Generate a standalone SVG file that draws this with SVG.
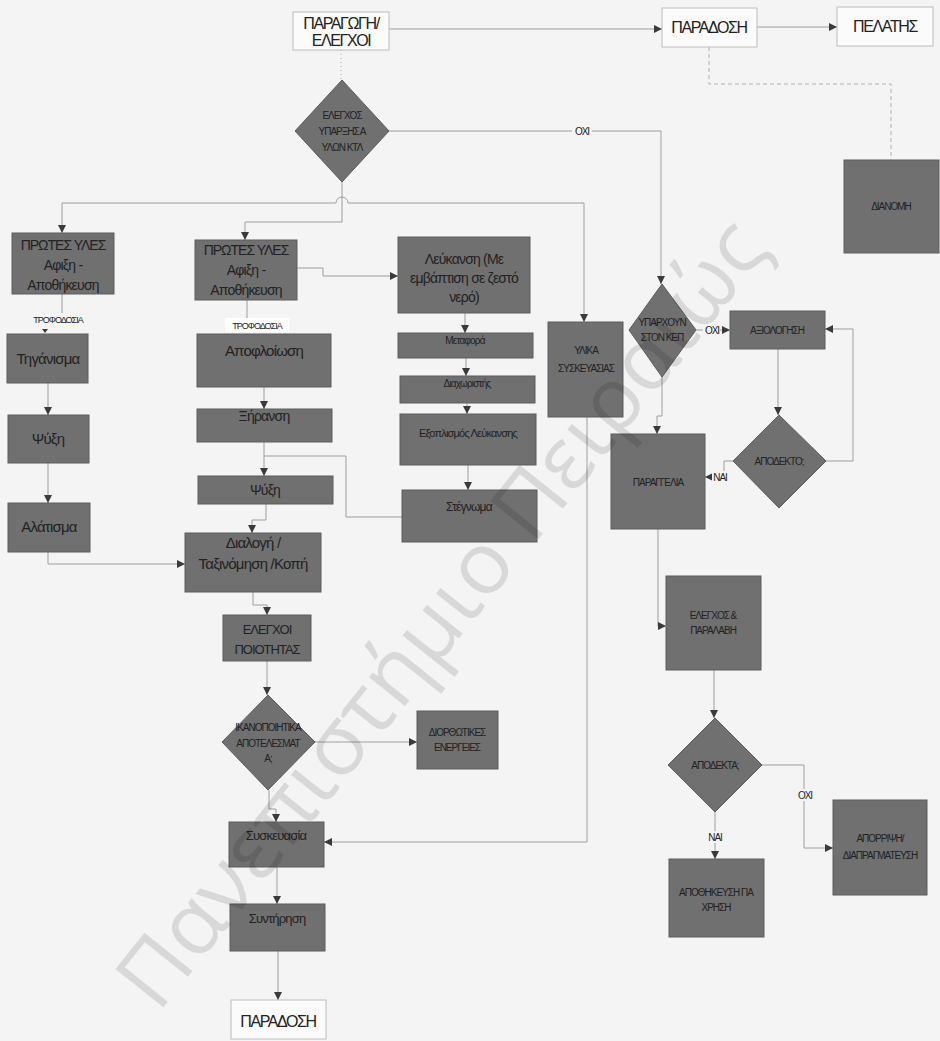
<svg xmlns="http://www.w3.org/2000/svg" width="940" height="1041" viewBox="0 0 940 1041">
<defs>
<style>
.bg{fill:#f4f4f4}
.box{fill:#707070;stroke:#5c5c5c;stroke-width:1}
.wbox{fill:#fbfbfb;stroke:#bcbcbc;stroke-width:1}
.c{fill:none;stroke:#9e9e9e;stroke-width:1}
.dash{fill:none;stroke:#b0b0b0;stroke-width:1;stroke-dasharray:4 3}
.t{font-family:"Liberation Sans",Arial,sans-serif;fill:#222222;text-anchor:middle}
.cap{letter-spacing:-1px}
.low{letter-spacing:-0.8px}
.big{font-size:16px;letter-spacing:-1.4px}
.s9{font-size:9px}
.s10{font-size:10px}
.s11{font-size:11px}
.s12{font-size:12px}
.s13{font-size:13px}
.s14{font-size:14px}
.s15{font-size:15px}
.lbl{fill:#f4f4f4}
.wm{font-family:"Open Sans","Liberation Sans",sans-serif;font-size:86px;fill:#000;opacity:0.11}
</style>
<marker id="ah" markerUnits="userSpaceOnUse" markerWidth="9" markerHeight="9" refX="8" refY="4" orient="auto-start-reverse">
<path d="M0,0 L8,4 L0,8 z" fill="#3a3a3a"/>
</marker>
</defs>
<rect class="bg" x="0" y="0" width="940" height="1041"/>

<g id="connectors">
<path class="c" d="M389,29 H662" marker-end="url(#ah)"/>
<path class="c" d="M757,27 H837" marker-end="url(#ah)"/>
<path class="dash" d="M709,47 V84 H891 V160"/>
<path class="dash" d="M341,50 V80" style="stroke-dasharray:1 3"/>
<path class="c" d="M389,131 H661 V284" marker-end="url(#ah)"/>
<path class="c" d="M342,182 V222 H245 V240" marker-end="url(#ah)"/>
<path class="c" d="M62,233 V203 H336 A6,6 0 0 1 348,203 H584 V322" marker-start="url(#ah)" marker-end="url(#ah)"/>
<path class="c" d="M297,268 H323 V276 H398" marker-end="url(#ah)"/>
<path class="c" d="M62,294 V313"/>
<path d="M42,329 L48,329 L45,333 z" fill="#3a3a3a"/>
<path class="c" d="M247,300 V319"/>
<path class="c" d="M48,383 V415" marker-end="url(#ah)"/>
<path class="c" d="M48,463 V503" marker-end="url(#ah)"/>
<path class="c" d="M48,552 V564 H185" marker-end="url(#ah)"/>
<path class="c" d="M264,387 V409" marker-end="url(#ah)"/>
<path class="c" d="M264,442 V476" marker-end="url(#ah)"/>
<path class="c" d="M264,456 H346 V517 H402"/>
<path class="c" d="M266,504 V520 H252 V533" marker-end="url(#ah)"/>
<path class="c" d="M465,313 V333" marker-end="url(#ah)"/>
<path class="c" d="M466,358 V376" marker-end="url(#ah)"/>
<path class="c" d="M467,403 V414" marker-end="url(#ah)"/>
<path class="c" d="M468,465 V490" marker-end="url(#ah)"/>
<path class="c" d="M253,592 V605 H267 V615" marker-end="url(#ah)"/>
<path class="c" d="M267,661 V695" marker-end="url(#ah)"/>
<path class="c" d="M315,742 H417" marker-end="url(#ah)"/>
<path class="c" d="M269,790 V809 H276 V822" marker-end="url(#ah)"/>
<path class="c" d="M587,417 V842 H324" marker-end="url(#ah)"/>
<path class="c" d="M277,867 V904" marker-end="url(#ah)"/>
<path class="c" d="M278,951 V1000" marker-end="url(#ah)"/>
<path class="c" d="M662,377 V416 H657 V434" marker-end="url(#ah)"/>
<path class="c" d="M696,330 H730" marker-end="url(#ah)"/>
<path class="c" d="M778,349 V415" marker-end="url(#ah)"/>
<path class="c" d="M826,461 H853 V329 H825" marker-end="url(#ah)"/>
<path class="c" d="M733,461 H724 V477 H705" marker-end="url(#ah)"/>
<path class="c" d="M658,529 V626 H666" marker-end="url(#ah)"/>
<path class="c" d="M714,670 V718" marker-end="url(#ah)"/>
<path class="c" d="M762,765 H804 V848 H833" marker-end="url(#ah)"/>
<path class="c" d="M715,812 V859" marker-end="url(#ah)"/>
<rect class="lbl" x="572" y="125" width="20" height="12"/>
<text class="t cap s10" x="582" y="135">ΟΧΙ</text>
<rect class="lbl" x="703" y="324" width="17" height="12"/>
<text class="t cap s10" x="712" y="334">ΟΧΙ</text>
<rect class="lbl" x="712" y="471" width="16" height="12"/>
<text class="t cap s10" x="720" y="481">ΝΑΙ</text>
<rect class="lbl" x="796" y="789" width="18" height="12"/>
<text class="t cap s10" x="805" y="799">ΟΧΙ</text>
<rect class="lbl" x="706" y="831" width="18" height="12"/>
<text class="t cap s10" x="715" y="841">ΝΑΙ</text>
<rect class="lbl" x="27" y="313" width="62" height="13"/>
<text class="t cap s9" x="58" y="323">ΤΡΟΦΟΔΟΣΙΑ</text>
<rect fill="#ffffff" x="225" y="318" width="64" height="14"/>
<text class="t cap s9" x="257" y="329">ΤΡΟΦΟΔΟΣΙΑ</text>
</g>

<g id="n-paragogi"><rect class="wbox" x="293" y="12" width="96" height="38"/>
<text class="t big" x="341" y="29">ΠΑΡΑΓΩΓΗ/</text><text class="t big" x="341" y="46">ΕΛΕΓΧΟΙ</text></g>
<g id="n-paradosi-top"><rect class="wbox" x="662" y="8" width="95" height="39"/>
<text class="t big" x="709" y="33">ΠΑΡΑΔΟΣΗ</text></g>
<g id="n-pelatis"><rect class="wbox" x="837" y="7" width="96" height="39"/>
<text class="t big" x="885" y="32">ΠΕΛΑΤΗΣ</text></g>
<g id="n-dianomi"><rect class="box" x="844" y="160" width="95" height="93"/>
<text class="t cap s10" x="891" y="210">ΔΙΑΝΟΜΗ</text></g>
<g id="d-elegxos"><polygon class="box" points="342,80 389,131 342,182 295,131"/>
<text class="t cap s10" x="342" y="119">ΕΛΕΓΧΟΣ</text><text class="t cap s10" x="342" y="135">ΥΠΑΡΞΗΣ Α</text><text class="t cap s10" x="342" y="151">ΥΛΩΝ ΚΤΛ</text></g>

<g id="n-prwtes1"><rect class="box" x="12" y="233" width="102" height="61"/>
<text class="t cap s14" x="63" y="250">ΠΡΩΤΕΣ ΥΛΕΣ</text><text class="t low s14" x="63" y="270">Αφιξη -</text><text class="t low s14" x="63" y="290">Αποθήκευση</text></g>
<g id="n-prwtes2"><rect class="box" x="195" y="240" width="102" height="60"/>
<text class="t cap s14" x="246" y="255">ΠΡΩΤΕΣ ΥΛΕΣ</text><text class="t low s14" x="246" y="275">Αφιξη -</text><text class="t low s14" x="246" y="295">Αποθήκευση</text></g>

<g id="n-tiganisma"><rect class="box" x="7" y="334" width="81" height="49"/>
<text class="t low s15" x="48" y="364">Τηγάνισμα</text></g>
<g id="n-psixi1"><rect class="box" x="8" y="415" width="81" height="48"/>
<text class="t low s15" x="48" y="444">Ψύξη</text></g>
<g id="n-alatisma"><rect class="box" x="8" y="503" width="82" height="49"/>
<text class="t low s15" x="49" y="532">Αλάτισμα</text></g>

<g id="n-apofloiwsi"><rect class="box" x="197" y="334" width="134" height="53"/>
<text class="t low s15" x="264" y="356">Αποφλοίωση</text></g>
<g id="n-xiransi"><rect class="box" x="197" y="409" width="135" height="33"/>
<text class="t low s14" x="264" y="421">Ξήρανση</text></g>
<g id="n-psixi2"><rect class="box" x="198" y="476" width="135" height="28"/>
<text class="t low s14" x="265" y="495">Ψύξη</text></g>
<g id="n-dialogi"><rect class="box" x="185" y="533" width="136" height="59"/>
<text class="t low s15" x="253" y="548">Διαλογή /</text><text class="t low s15" x="253" y="569">Ταξινόμηση /Κοπή</text></g>

<g id="n-leukansi"><rect class="box" x="398" y="237" width="132" height="76"/>
<text class="t low s14" x="464" y="264">Λεύκανση (Με</text><text class="t low s14" x="464" y="283">εμβάπτιση σε ζεστό</text><text class="t low s14" x="464" y="302">νερό)</text></g>
<g id="n-metafora"><rect class="box" x="398" y="333" width="135" height="25"/>
<text class="t low s10" x="465" y="344">Μεταφορά</text></g>
<g id="n-diaxwristis"><rect class="box" x="400" y="376" width="135" height="27"/>
<text class="t low s10" x="467" y="387">Διαχωριστής</text></g>
<g id="n-exoplismos"><rect class="box" x="400" y="414" width="136" height="51"/>
<text class="t low s11" x="468" y="437">Εξοπλισμός Λεύκανσης</text></g>
<g id="n-stegnwma"><rect class="box" x="402" y="490" width="135" height="52"/>
<text class="t low s12" x="469" y="511">Στέγνωμα</text></g>

<g id="n-ylika"><rect class="box" x="548" y="322" width="75" height="95"/>
<text class="t cap s10" x="586" y="354">ΥΛΙΚΑ</text><text class="t cap s10" x="586" y="372">ΣΥΣΚΕΥΑΣΙΑΣ</text></g>
<g id="d-yparxoun"><polygon class="box" points="662,284 696,330 662,377 629,330"/>
<text class="t cap s10" x="662" y="326">ΥΠΑΡΧΟΥΝ</text><text class="t cap s10" x="662" y="341">ΣΤΟΝ ΚΕΠ</text></g>
<g id="n-axiologisi"><rect class="box" x="730" y="311" width="95" height="38"/>
<text class="t cap s10" x="777" y="334">ΑΞΙΟΛΟΓΗΣΗ</text></g>
<g id="d-apodekto"><polygon class="box" points="779,415 826,461 779,508 733,461"/>
<text class="t cap s10" x="779" y="465">ΑΠΟΔΕΚΤΟ;</text></g>
<g id="n-paraggelia"><rect class="box" x="611" y="434" width="94" height="95"/>
<text class="t cap s10" x="658" y="486">ΠΑΡΑΓΓΕΛΙΑ</text></g>
<g id="n-elegxos-paralavi"><rect class="box" x="666" y="576" width="95" height="94"/>
<text class="t cap s10" x="713" y="619">ΕΛΕΓΧΟΣ &amp;</text><text class="t cap s10" x="713" y="634">ΠΑΡΑΛΑΒΗ</text></g>
<g id="d-apodekta"><polygon class="box" points="715,718 762,765 715,812 668,765"/>
<text class="t cap s10" x="715" y="769">ΑΠΟΔΕΚΤΑ;</text></g>
<g id="n-aporripsi"><rect class="box" x="833" y="800" width="94" height="95"/>
<text class="t cap s10" x="880" y="842">ΑΠΟΡΡΙΨΗ/</text><text class="t cap s10" x="880" y="859">ΔΙΑΠΡΑΓΜΑΤΕΥΣΗ</text></g>
<g id="n-apothikeusi"><rect class="box" x="669" y="859" width="95" height="78"/>
<text class="t cap s10" x="716" y="896">ΑΠΟΘΗΚΕΥΣΗ ΓΙΑ</text><text class="t cap s10" x="716" y="911">ΧΡΗΣΗ</text></g>

<g id="n-elegxoi-poiotitas"><rect class="box" x="223" y="615" width="88" height="46"/>
<text class="t cap s13" x="267" y="634">ΕΛΕΓΧΟΙ</text><text class="t cap s13" x="267" y="654">ΠΟΙΟΤΗΤΑΣ</text></g>
<g id="d-ikanopoiitika"><polygon class="box" points="268,695 315,742 268,790 222,742"/>
<text class="t cap s10" x="268" y="731">ΙΚΑΝΟΠΟΙΗΤΙΚΑ</text><text class="t cap s10" x="268" y="747">ΑΠΟΤΕΛΕΣΜΑΤ</text><text class="t cap s10" x="268" y="762">Α;</text></g>
<g id="n-diorthwtikes"><rect class="box" x="417" y="711" width="81" height="58"/>
<text class="t cap s10" x="457" y="736">ΔΙΟΡΘΩΤΙΚΕΣ</text><text class="t cap s10" x="457" y="751">ΕΝΕΡΓΕΙΕΣ</text></g>
<g id="n-syskeuasia"><rect class="box" x="229" y="822" width="95" height="45"/>
<text class="t low s13" x="276" y="840">Συσκευασία</text></g>
<g id="n-syntirisi"><rect class="box" x="230" y="904" width="95" height="47"/>
<text class="t low s13" x="277" y="923">Συντήρηση</text></g>
<g id="n-paradosi-bottom"><rect class="wbox" x="231" y="1000" width="95" height="39"/>
<text class="t big" x="278" y="1027">ΠΑΡΑΔΟΣΗ</text></g>

<text class="wm" transform="translate(158,1014) rotate(-51.3)" textLength="980" lengthAdjust="spacingAndGlyphs">Πανεπιστήμιο Πειραιώς</text>
</svg>
